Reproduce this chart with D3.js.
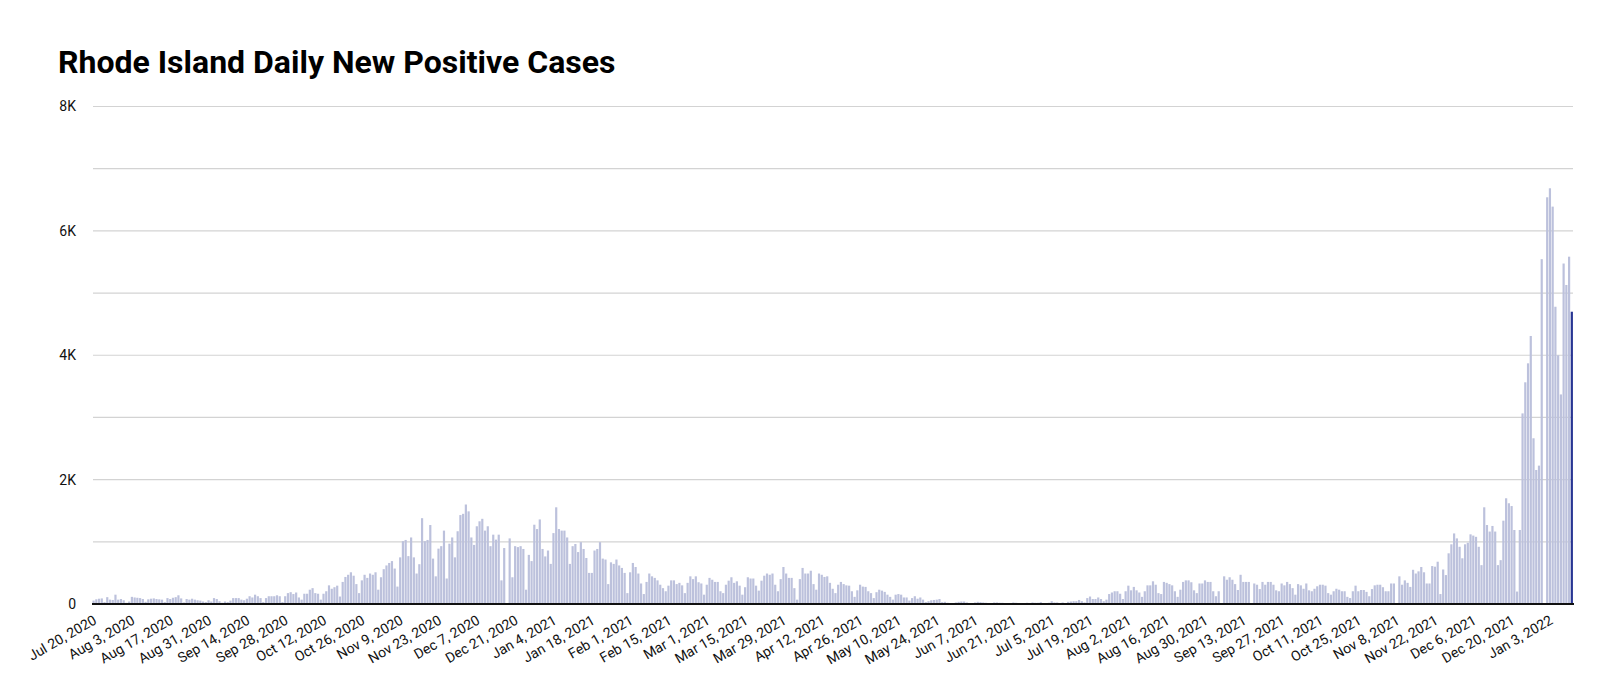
<!DOCTYPE html>
<html><head><meta charset="utf-8">
<script src="https://cdn.jsdelivr.net/npm/d3@7"></script>
<style>
body{margin:0;background:#fff}
svg{display:block}
text{font-family:Roboto,"Noto Sans",sans-serif}
</style>
</head><body>
<svg id="chart" width="1600" height="692"></svg>
<script>
const chartTitle = "Rhode Island Daily New Positive Cases";
const firstDay = "2020-07-20";

// daily new positive cases, in consecutive segments
const casesJulSep2020 = [55,75,85,90,30,110,70, 65,150,70,80,60,20,40, 115,105,100,95,80,35,75, 85,90,80,75,70,30,95, 80,100,110,140,90,25,80, 70,85,70,60,55,40,30, 60,40,95,80,45,20];
const casesSepOct2020 = [40,30,55,95,95,95,70,60,85,125,105,150,125,95,30,95,125,125,125,140,125,30,125,175,190,160,185,105,70,165,165,230,255,175,165,70,165,205,300,245,270,295,120,355,435,470,510,455,320];
const casesOctDec2020 = [175,380,470,420,490,470,510,230,430,560,620,660,690,570,280,750,1010,1030,770,1070,750,490,640,1380,1010,1030,1270,730,445,890,930,1180,410,970,1070,750,1170,1430,1450,1600,1490,1070,950,1250,1330,1370,1180,1250,930];
const casesDecJan2021 = [1115,1035,1115,380,900,0,1055,430,930,915,930,885,230,790,690,1275,1205,1360,885,765,860,645,1140,1555,1205,1180,1180,1070,645,930,965,835,995,885,740,500,500,860,885,995,730,715,320,670,645,715,620,580,500];
const casesFebMar2021 = [175,510,660,595,490,330,160,355,490,445,420,380,310,255,205,295,380,380,320,340,300,175,340,445,400,445,350,330,150,310,420,390,355,355,205,175,310,375,430,340,365,295,150,270,430,410,410,295,215];
const casesMarMay2021 = [375,455,490,470,490,310,205,400,595,490,420,420,255,70,400,580,490,490,535,320,230,490,470,435,445,340,245,175,310,355,320,300,295,205,115,220,310,280,275,205,175,95,190,230,215,195,150,115,70];
const casesMayJun2021 = [150,160,150,105,105,55,95,125,85,105,70,30,45,60,65,70,80,30,35,20,10,10,25,35,40,40,25,10,10,25,35,30,25,20,10,15,25,25,20,20,10,10,15,25,20,15,10,10,20];
const casesJunAug2021 = [15,25,20,20,30,15,10,20,45,25,25,15,25,10,35,40,45,45,65,45,25,95,120,80,80,105,80,45,70,160,185,205,205,165,80,205,295,220,275,220,185,115,205,300,300,365,310,175,160];
const casesAugOct2021 = [355,340,320,300,205,115,230,355,380,380,350,220,175,330,330,380,355,355,205,125,205,15,445,390,430,390,320,225,470,355,355,355,0,330,310,240,355,310,355,355,310,220,205,330,300,355,320,255,150];
const casesOctNov2021 = [320,300,245,330,220,205,245,285,310,310,295,175,150,205,245,230,205,205,115,95,205,295,205,225,225,195,125,240,300,310,310,270,205,205,330,330,0,445,310,380,340,275,550,490,525,595,510,330,330];
const casesNovJan2022 = [610,600,680,160,555,465,815,960,1135,1055,920,735,960,985,1120,1100,1080,920,625,1555,1270,1165,1255,1165,625,705,1340,1700,1620,1575,1190,200,1190,3065,3565,3870,4310,2665,2155,2225,5545,0,6540,6685,6390,4780,4000,3370,5475,5130,5585,4700];

const yLabelValues = [0, 2000, 4000, 6000, 8000];
const yLabelTexts = ["0", "2K", "4K", "6K", "8K"];
const xTickLabels = ["Jul 20, 2020","Aug 3, 2020","Aug 17, 2020","Aug 31, 2020","Sep 14, 2020","Sep 28, 2020","Oct 12, 2020","Oct 26, 2020","Nov 9, 2020","Nov 23, 2020","Dec 7, 2020","Dec 21, 2020","Jan 4, 2021","Jan 18, 2021","Feb 1, 2021","Feb 15, 2021","Mar 1, 2021","Mar 15, 2021","Mar 29, 2021","Apr 12, 2021","Apr 26, 2021","May 10, 2021","May 24, 2021","Jun 7, 2021","Jun 21, 2021","Jul 5, 2021","Jul 19, 2021","Aug 2, 2021","Aug 16, 2021","Aug 30, 2021","Sep 13, 2021","Sep 27, 2021","Oct 11, 2021","Oct 25, 2021","Nov 8, 2021","Nov 22, 2021","Dec 6, 2021","Dec 20, 2021","Jan 3, 2022"];

const cases = [].concat(casesJulSep2020, casesSepOct2020, casesOctDec2020, casesDecJan2021,
  casesFebMar2021, casesMarMay2021, casesMayJun2021, casesJunAug2021, casesAugOct2021,
  casesOctNov2021, casesNovJan2022);

const t0 = d3.timeParse("%Y-%m-%d")(firstDay);
const data = cases.map((v, i) => ({date: d3.timeDay.offset(t0, i), value: v}));

const svg = d3.select("#chart");
const x = d3.scaleBand().domain(data.map(d => +d.date)).range([92.2, 1573.2]).paddingInner(0.2).paddingOuter(0.1);
const y = d3.scaleLinear().domain([0, 8000]).range([604, 106.5]);

// title
svg.append("text").attr("x", 58).attr("y", 73)
  .attr("font-size", 32).attr("font-weight", 700).attr("fill", "#000")
  .text(chartTitle);

// gridlines
svg.append("g").selectAll("line").data(y.ticks(8).filter(v => v > 0)).join("line")
  .attr("x1", 93).attr("x2", 1573)
  .attr("y1", d => y(d)).attr("y2", d => y(d))
  .attr("stroke", "#d3d3d3").attr("stroke-width", 1.2);

// y labels
svg.append("g").selectAll("text").data(yLabelValues).join("text")
  .attr("x", 76).attr("y", d => y(d)).attr("dy", "0.35em")
  .attr("text-anchor", "end").attr("font-size", 14).attr("fill", "#111")
  .text((d, i) => yLabelTexts[i]);

// bars
const last = data.length - 1;
svg.append("g").selectAll("rect").data(data).join("rect")
  .attr("x", d => x(+d.date)).attr("width", x.bandwidth())
  .attr("y", d => y(d.value)).attr("height", d => y(0) - y(d.value))
  .attr("fill", (d, i) => i === last ? "#283593" : "#bcc1dc");

// baseline
svg.append("line").attr("x1", 92).attr("x2", 1574).attr("y1", y(0)).attr("y2", y(0))
  .attr("stroke", "#111").attr("stroke-width", 2);

// x labels
const parseTick = d3.timeParse("%b %d, %Y");
svg.append("g").selectAll("text").data(xTickLabels).join("text")
  .attr("transform", d => {
    const dt = parseTick(d);
    const tx = x(+dt) + x.bandwidth() / 2 + 4;
    return `translate(${tx},${623}) rotate(-30)`;
  })
  .attr("text-anchor", "end").attr("font-size", 14).attr("fill", "#111")
  .text(d => d);
</script>
</body></html>
